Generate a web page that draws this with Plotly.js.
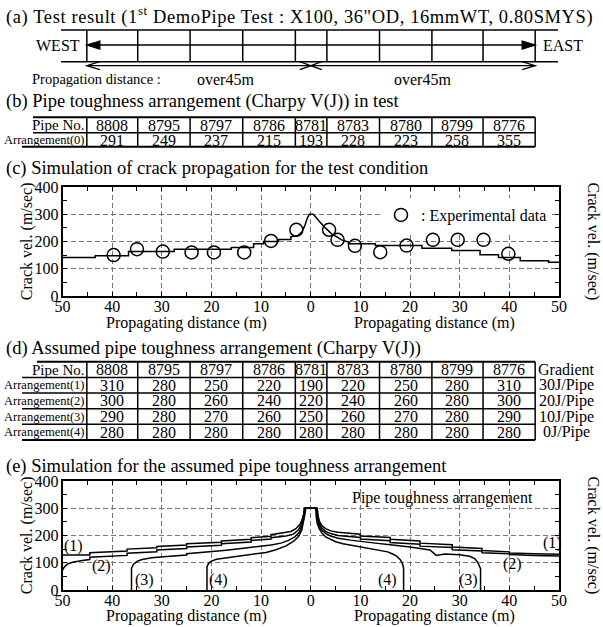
<!DOCTYPE html>
<html><head><meta charset="utf-8">
<script src="https://cdn.plot.ly/plotly-3.0.1.min.js"></script>
<style>html,body{margin:0;padding:0;background:#fff}</style>
</head><body>
<div id="chart" style="width:603px;height:627px"></div>
<script>
// ---------------- data ----------------
const pipeNos = ['8808','8795','8797','8786','8781','8783','8780','8799','8776'];
const pipeEdges = [-45.1, -34.85, -24.3, -13.7, -3.1, 3.25, 13.85, 24.4, 34.7, 45.2]; // joint positions (m)
const arrangement0 = [291, 249, 237, 215, 193, 228, 223, 258, 355];
const arrangement1 = [310, 280, 250, 220, 190, 220, 250, 280, 310];
const arrangement2 = [300, 280, 260, 240, 220, 240, 260, 280, 300];
const arrangement3 = [290, 280, 270, 260, 250, 260, 270, 280, 290];
const arrangement4 = [280, 280, 280, 280, 280, 280, 280, 280, 280];
const gradients = ['30J/Pipe', '20J/Pipe', '10J/Pipe', '0J/Pipe'];

const distTicks = [-50, -40, -30, -20, -10, 0, 10, 20, 30, 40, 50];
const distTickText = ['50', '40', '30', '20', '10', '0', '10', '20', '30', '40', '50'];
const distMinorTicks = [-45, -35, -25, -15, -5, 5, 15, 25, 35, 45];
const velTicks = [0, 100, 200, 300, 400];
const velMinorTicks = [50, 150, 250, 350];
const velCenterTicks = [0, 50, 100, 150, 200, 250, 300, 350, 400];

// (c) simulated crack velocity, west (negative) and east side
const simWestX = [-50, -43.4, -43.4, -36.7, -36.7, -27.5, -27.5, -16, -16, -11.5, -11.5, -9.5, -9.5, -6.5, -6.5, -4, -4, -2.6, -1.8, -1.2, -0.7, -0.3, 0];
const simWestV = [141, 141, 148, 148, 163, 163, 172, 172, 178, 178, 192, 192, 200, 200, 207, 207, 217, 222, 235, 258, 285, 300, 300];
const simEastX = [0, 0.5, 1.0, 1.7, 3.0, 4.2, 5.2, 6.2, 7.6, 7.6, 13, 13, 22.4, 22.4, 28.4, 28.4, 34.1, 34.1, 37.8, 37.8, 42.2, 42.2, 47.9, 47.9, 50];
const simEastV = [300, 300, 290, 274, 249, 228, 218, 206, 198, 192, 192, 185, 185, 175, 175, 167, 167, 151, 151, 141, 141, 129, 129, 124, 124];
// (c) experimental data
const expX = [-39.7, -35, -29.8, -24, -19.5, -13.4, -8, -2.9, 3.7, 5.4, 8.9, 14, 19.3, 24.6, 29.6, 34.8, 39.8];
const expV = [150, 172, 163, 160, 160, 160, 202, 243, 243, 206, 184, 161, 185, 206, 206, 206, 155];

// (e) simulations for arrangements (1)-(4)
const curve1X = [-50, -44.5, -44.5, -37, -37, -31, -31, -25, -25, -18, -18, -12, -12, -8, -8, -5, -4, -3, -2.2, -1.7, -1.4, -1.3, 1.3, 1.5, 1.8, 2.3, 3, 4, 5.5, 10, 10, 16, 16, 22, 22, 28.5, 28.5, 34.5, 34.5, 40, 40, 45, 50];
const curve1V = [128, 128, 137, 143, 150, 155, 160, 165, 170, 175, 180, 186, 192, 197, 203, 210, 215, 225, 240, 260, 280, 300, 300, 270, 250, 235, 225, 217, 212, 205, 198, 193, 186, 180, 172, 166, 158, 152, 145, 140, 136, 133, 131];
const curve2X = [-50, -49.6, -49, -48, -46, -44.5, -44.5, -40, -37, -37, -31, -31, -25, -25, -18, -18, -12, -12, -8, -8, -5, -3.5, -2.5, -1.9, -1.5, -1.25, 1.2, 1.4, 1.7, 2.2, 3, 4, 5.5, 10, 10, 16, 16, 22, 22, 28.5, 28.5, 34.5, 34.5, 40, 40, 45, 50];
const curve2V = [73, 85, 95, 102, 108, 112, 120, 124, 127, 135, 140, 147, 152, 158, 164, 170, 176, 182, 187, 192, 198, 205, 220, 240, 265, 300, 300, 265, 245, 228, 215, 207, 200, 193, 187, 181, 174, 168, 161, 156, 148, 143, 137, 133, 130, 127, 125];
const curve3X = [-36.1, -36.1, -35.7, -35, -34, -32, -29, -25, -25, -20, -17, -14, -11, -8, -6, -4.5, -3.2, -2.3, -1.7, -1.35, -1.15, 1.1, 1.3, 1.6, 2.1, 3, 4, 5.5, 8, 10, 13, 16, 20, 24, 24.6, 25.3, 27, 30, 32, 33, 33.6, 34, 34.2, 34.2];
const curve3V = [0, 80, 95, 105, 112, 118, 123, 128, 133, 140, 146, 152, 158, 165, 172, 182, 195, 212, 238, 268, 300, 300, 265, 240, 222, 208, 198, 190, 183, 178, 172, 166, 158, 147, 138, 127, 132, 129, 124, 115, 103, 90, 78, 0];
const curve4X = [-20.9, -20.9, -20.6, -20, -19, -17, -15, -12, -9, -7, -5, -3.5, -2.5, -1.8, -1.4, -1.15, -1.0, 1.0, 1.1, 1.3, 1.7, 2.3, 3, 4, 5, 6.5, 8, 10, 12, 14, 15.5, 16.5, 17.3, 18, 18.4, 18.6, 18.7, 18.7];
const curve4V = [0, 85, 97, 106, 113, 118, 122, 129, 138, 148, 162, 178, 195, 220, 250, 280, 300, 300, 270, 245, 225, 208, 195, 185, 177, 170, 165, 158, 152, 146, 140, 132, 124, 112, 100, 88, 80, 0];

// ---------------- layout helpers ----------------
const W = 603, H = 627;
const PX = v => v / W;
const PY = v => 1 - v / H;
const FONT = 'Liberation Serif, Times New Roman, serif';
const plotL = 62.5, plotR = 559;
const mToPx = m => plotL + (m + 50) / 100 * (plotR - plotL);
const pxPerM = (plotR - plotL) / 100;
const xDom = [PX(plotL), PX(plotR)];
const domC = [PY(296), PY(187)];
const domE = [PY(590), PY(481)];
const centerPos = PX((plotL + plotR) / 2);

const shapes = [];
const annotations = [];
const ln = w => ({color: '#000', width: w});
function hLine(y, x0, x1, w) {
  shapes.push({type: 'line', xref: 'paper', yref: 'paper', x0: PX(x0), x1: PX(x1), y0: PY(y), y1: PY(y), line: ln(w || 1.5)});
}
function vLineM(m, y0, y1, w) {
  shapes.push({type: 'line', xref: 'x', yref: 'paper', x0: m, x1: m, y0: PY(y0), y1: PY(y1), line: ln(w || 1.5)});
}
function hLineM(y, m0, m1, w) {
  shapes.push({type: 'line', xref: 'x', yref: 'paper', x0: m0, x1: m1, y0: PY(y), y1: PY(y), line: ln(w || 1.5)});
}
function head(tipM, y, dir, lenPx, halfPx, filled) {
  const b = tipM + dir * lenPx / pxPerM;
  let p = `M ${b},${PY(y - halfPx)} L ${tipM},${PY(y)} L ${b},${PY(y + halfPx)}`;
  if (filled) p += ' Z';
  shapes.push({type: 'path', xref: 'x', yref: 'paper', path: p, line: ln(1.3), fillcolor: filled ? '#000' : 'rgba(0,0,0,0)'});
}
function txt(x, y, text, size, xanchor, extra) {
  annotations.push(Object.assign({xref: 'paper', yref: 'paper', x: PX(x), y: PY(y), text: text, showarrow: false, borderpad: 0,
    xanchor: xanchor || 'center', yanchor: 'middle', font: {family: FONT, size: size, color: '#000'}}, extra || {}));
}
function cellTxt(i, y, text, size) {
  annotations.push({xref: 'x', yref: 'paper', x: (pipeEdges[i] + pipeEdges[i + 1]) / 2, y: PY(y), text: String(text),
    showarrow: false, borderpad: 0, xanchor: 'center', yanchor: 'middle', font: {family: FONT, size: size || 16, color: '#000'}});
}
const e0 = pipeEdges[0], eN = pipeEdges[pipeEdges.length - 1];

// ---- (a) pipe layout diagram ----
txt(5, 15, '<span style="letter-spacing:0.6px">(a) Test result (1<sup>st</sup> DemoPipe Test : X100, 36"OD, 16mmWT, 0.80SMYS)</span>', 18.5, 'left');
hLine(30, 61, 558, 1.5);
hLine(61.7, 61, 558, 1.5);
pipeEdges.forEach(m => vLineM(m, 30, 61.7, 1.5));
hLineM(45, e0, eN, 1.3);
head(e0, 45, 1, 13, 4, true);
head(eN, 45, -1, 13, 4, true);
txt(58, 46, 'WEST', 16);
txt(563, 46, 'EAST', 16);
hLineM(65.7, e0, eN, 1.3);
head(e0, 65.7, 1, 13, 4, false);
head(0, 65.7, -1, 11, 4, false);
head(0, 65.7, 1, 11, 4, false);
head(eN, 65.7, -1, 13, 4, false);
txt(31, 79, 'Propagation distance :', 14.5, 'left');
txt(225, 79, 'over45m', 16);
txt(422, 79, 'over45m', 16);

// ---- (b) table ----
txt(5, 101.5, '(b) Pipe toughness arrangement (Charpy V(J)) in test', 18.5, 'left');
const tRight = mToPx(eN);
hLine(117.3, 33, tRight, 2);
hLine(132.7, 33, tRight, 1.5);
hLine(146.7, 22, tRight, 2);
pipeEdges.forEach(m => vLineM(m, 117.3, 146.7, 1.5));
txt(86, 125, 'Pipe No.', 15, 'right');
txt(86, 140, 'Arrangement(0)', 12.5, 'right');
pipeNos.forEach((p, i) => cellTxt(i, 125, p));
arrangement0.forEach((v, i) => cellTxt(i, 140, v));

// ---- (c) title ----
txt(5, 168.5, '(c) Simulation of crack propagation for the test condition', 18.5, 'left');

// ---- (d) table ----
txt(5, 348.3, '(d) Assumed pipe toughness arrangement (Charpy V(J))', 18.5, 'left');
const dRows = [361.7, 377.4, 393, 408.7, 424.3, 440];
hLine(dRows[0], 37, tRight, 2);
for (let r = 1; r < dRows.length; r++) hLine(dRows[r], 22, tRight, r === dRows.length - 1 ? 2 : 1.5);
pipeEdges.forEach(m => vLineM(m, dRows[0], dRows[dRows.length - 1], 1.5));
const dMid = r => (dRows[r] + dRows[r + 1]) / 2;
txt(86, dMid(0), 'Pipe No.', 15, 'right');
pipeNos.forEach((p, i) => cellTxt(i, dMid(0), p));
txt(566, dMid(0), 'Gradient', 16);
[arrangement1, arrangement2, arrangement3, arrangement4].forEach((arr, k) => {
  txt(86, dMid(k + 1), 'Arrangement(' + (k + 1) + ')', 12.5, 'right');
  arr.forEach((v, i) => cellTxt(i, dMid(k + 1), v));
  txt(566, dMid(k + 1), gradients[k], 16);
});

// ---- (e) title ----
txt(5, 466, '(e) Simulation for the assumed pipe toughness arrangement', 18.5, 'left');

// axis titles
[[241.5, 322.5], [535.5, 615.5]].forEach(([yc, yx]) => {
  txt(26.7, yc, 'Crack vel. (m/sec)', 16, 'center', {textangle: -90});
  txt(593, yc, 'Crack vel. (m/sec)', 16, 'center', {textangle: 90});
  txt((plotL + plotR) / 2 - (plotR - plotL) / 4, yx, 'Propagating distance (m)', 16);
  txt((plotL + plotR) / 2 + (plotR - plotL) / 4, yx, 'Propagating distance (m)', 16);
});

// (e) in-plot labels
const lab = (x, y, t) => annotations.push({xref: 'x2', yref: 'y5', x: x, y: y, text: t, showarrow: false, borderpad: 0,
  xanchor: 'center', yanchor: 'middle', font: {family: FONT, size: 16, color: '#000'}});
lab(-47.8, 161, '(1)'); lab(-42.1, 88, '(2)'); lab(-33.4, 37, '(3)'); lab(-18.6, 37, '(4)');
lab(48.6, 171, '(1)'); lab(40.6, 95, '(2)'); lab(31.8, 37, '(3)'); lab(15.4, 37, '(4)');
annotations.push({xref: 'x2', yref: 'y5', x: 26.5, y: 338, text: 'Pipe toughness arrangement', showarrow: false, borderpad: 0,
  xanchor: 'center', yanchor: 'middle', font: {family: FONT, size: 16, color: '#000'}});

// ---------------- axes ----------------
const tickFont = {family: FONT, size: 16, color: '#000'};
const GRID = '#777', DASH = '5px,3px';
function xAxis(anchor) {
  return {domain: xDom, anchor: anchor, range: [-50, 50], tickmode: 'array', tickvals: distTicks, ticktext: distTickText,
    ticks: 'inside', ticklen: 4, tickwidth: 1, tickcolor: '#000', showline: true, linecolor: '#000', linewidth: 1.8,
    mirror: 'ticks', showgrid: true, gridcolor: GRID, griddash: DASH, gridwidth: 1, zeroline: false,
    tickfont: tickFont, ticklabelstandoff: -5, fixedrange: true,
    minor: {tickmode: 'array', tickvals: distMinorTicks, ticks: 'inside', ticklen: 4, tickwidth: 1, tickcolor: '#000', showgrid: false}};
}
function yLeft(domain, anchor) {
  return {domain: domain, anchor: anchor, range: [0, 400], tickmode: 'array', tickvals: velTicks,
    ticks: 'inside', ticklen: 4, tickwidth: 1, tickcolor: '#000', showline: true, linecolor: '#000', linewidth: 1.8,
    mirror: 'ticks', showgrid: true, gridcolor: GRID, griddash: DASH, gridwidth: 1, zeroline: false,
    tickfont: tickFont, ticklabelstandoff: -1, fixedrange: true,
    minor: {tickmode: 'array', tickvals: velMinorTicks, ticks: 'inside', ticklen: 4, tickwidth: 1, tickcolor: '#000', showgrid: false}};
}
function yRight(over, anchor) {
  return {overlaying: over, anchor: anchor, side: 'right', range: [0, 400], tickmode: 'array', tickvals: velTicks,
    ticks: '', showline: false, showgrid: false, zeroline: false, tickfont: tickFont, ticklabelstandoff: 2, fixedrange: true};
}
function yCenter(over, side) {
  return {overlaying: over, anchor: 'free', position: centerPos, side: side, range: [0, 400], tickmode: 'array',
    tickvals: velCenterTicks, ticks: 'outside', ticklen: 3, tickwidth: 1, tickcolor: '#000', showticklabels: false,
    showline: true, linecolor: '#000', linewidth: 2, showgrid: false, zeroline: false, fixedrange: true};
}

// ---------------- traces ----------------
const blackLine = {color: '#000', width: 1.5};
const traces = [
  {x: simWestX, y: simWestV, xaxis: 'x', yaxis: 'y', mode: 'lines', line: blackLine, showlegend: false, hoverinfo: 'skip'},
  {x: simEastX, y: simEastV, xaxis: 'x', yaxis: 'y', mode: 'lines', line: blackLine, showlegend: false, hoverinfo: 'skip'},
  {x: expX, y: expV, xaxis: 'x', yaxis: 'y', mode: 'markers', name: ': Experimental data', showlegend: true,
    marker: {symbol: 'circle-open', size: 13, color: '#000', line: {color: '#000', width: 1.5}}},
  {x: curve1X, y: curve1V, xaxis: 'x2', yaxis: 'y5', mode: 'lines', line: blackLine, showlegend: false},
  {x: curve2X, y: curve2V, xaxis: 'x2', yaxis: 'y5', mode: 'lines', line: blackLine, showlegend: false},
  {x: curve3X, y: curve3V, xaxis: 'x2', yaxis: 'y5', mode: 'lines', line: blackLine, showlegend: false},
  {x: curve4X, y: curve4V, xaxis: 'x2', yaxis: 'y5', mode: 'lines', line: blackLine, showlegend: false}
];

const layout = {
  width: W, height: H, margin: {l: 0, r: 0, t: 0, b: 0}, paper_bgcolor: '#fff', plot_bgcolor: 'rgba(0,0,0,0)',
  font: {family: FONT, color: '#000', size: 16},
  xaxis: xAxis('y'),
  yaxis: yLeft(domC, 'x'),
  yaxis2: yRight('y', 'x'),
  yaxis3: yCenter('y', 'left'),
  yaxis4: yCenter('y', 'right'),
  xaxis2: xAxis('y5'),
  yaxis5: yLeft(domE, 'x2'),
  yaxis6: yRight('y5', 'x2'),
  yaxis7: yCenter('y5', 'left'),
  yaxis8: yCenter('y5', 'right'),
  showlegend: true,
  legend: {x: PX(381), y: PY(215), xanchor: 'left', yanchor: 'middle', bgcolor: '#fff', borderwidth: 0,
    font: {family: FONT, size: 16, color: '#000'}},
  shapes: shapes,
  annotations: annotations
};

Plotly.newPlot('chart', traces, layout, {staticPlot: true, displayModeBar: false});
</script>
</body></html>
